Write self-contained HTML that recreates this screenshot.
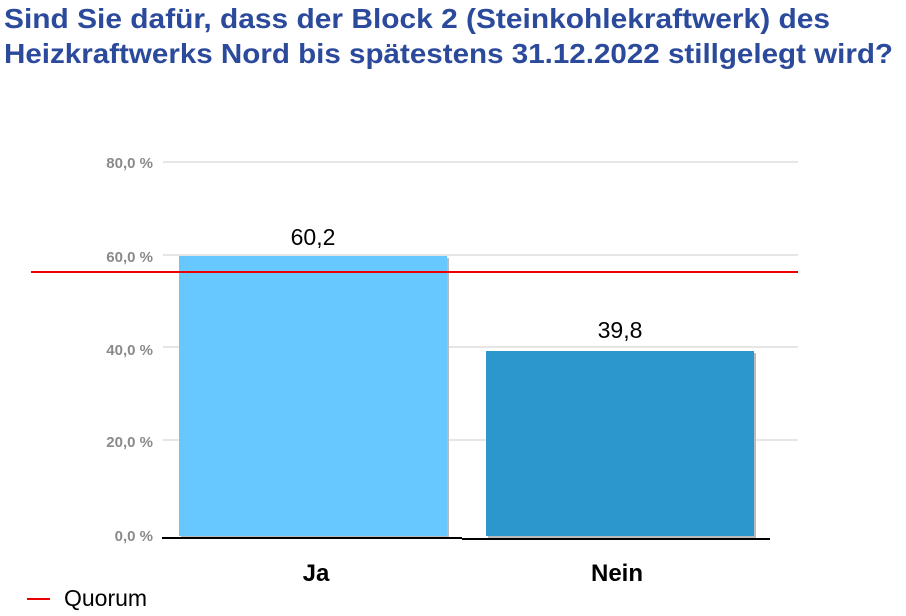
<!DOCTYPE html>
<html><head><meta charset="utf-8"><style>
body{margin:0;width:906px;height:611px;background:#fff;overflow:hidden;font-family:"Liberation Sans",sans-serif}
</style></head><body>
<svg width="906" height="611" xmlns="http://www.w3.org/2000/svg" font-family="Liberation Sans, sans-serif">
<text x="4" y="28" font-size="28" font-weight="bold" fill="#2b4a9b" textLength="826" lengthAdjust="spacingAndGlyphs">Sind Sie dafür, dass der Block 2 (Steinkohlekraftwerk) des</text>
<text x="4" y="63" font-size="28" font-weight="bold" fill="#2b4a9b" textLength="889" lengthAdjust="spacingAndGlyphs">Heizkraftwerks Nord bis spätestens 31.12.2022 stillgelegt wird?</text>
<g stroke="#e6e6e6" stroke-width="2">
<line x1="163" y1="162" x2="798" y2="162"/>
<line x1="163" y1="255" x2="798" y2="255"/>
<line x1="163" y1="347" x2="798" y2="347"/>
<line x1="163" y1="440" x2="798" y2="440"/>
</g>
<g font-size="15" font-weight="bold" fill="#8a8a8a" text-anchor="end">
<text x="153" y="168">80,0 %</text>
<text x="153" y="262">60,0 %</text>
<text x="153" y="355">40,0 %</text>
<text x="153" y="447">20,0 %</text>
<text x="153" y="541">0,0 %</text>
</g>
<rect x="181" y="258" width="268" height="280" fill="#bbb"/>
<rect x="179" y="256" width="268" height="280" fill="#66c8fe"/>
<rect x="488" y="353" width="268" height="185" fill="#bbb"/>
<rect x="486" y="351" width="268" height="185" fill="#2c97cd"/>
<line x1="162" y1="538" x2="462" y2="538" stroke="#000" stroke-width="2"/>
<line x1="462" y1="539" x2="770" y2="539" stroke="#000" stroke-width="2"/>
<line x1="31" y1="272" x2="798" y2="272" stroke="#e00" stroke-width="2"/>
<text x="313" y="245" font-size="23" text-anchor="middle">60,2</text>
<text x="620" y="338" font-size="23" text-anchor="middle">39,8</text>
<text x="316" y="581" font-size="24" font-weight="bold" text-anchor="middle">Ja</text>
<text x="617" y="581" font-size="24" font-weight="bold" text-anchor="middle">Nein</text>
<line x1="27" y1="599" x2="50" y2="599" stroke="#e00" stroke-width="2"/>
<text x="64" y="606" font-size="23">Quorum</text>
</svg>
</body></html>
